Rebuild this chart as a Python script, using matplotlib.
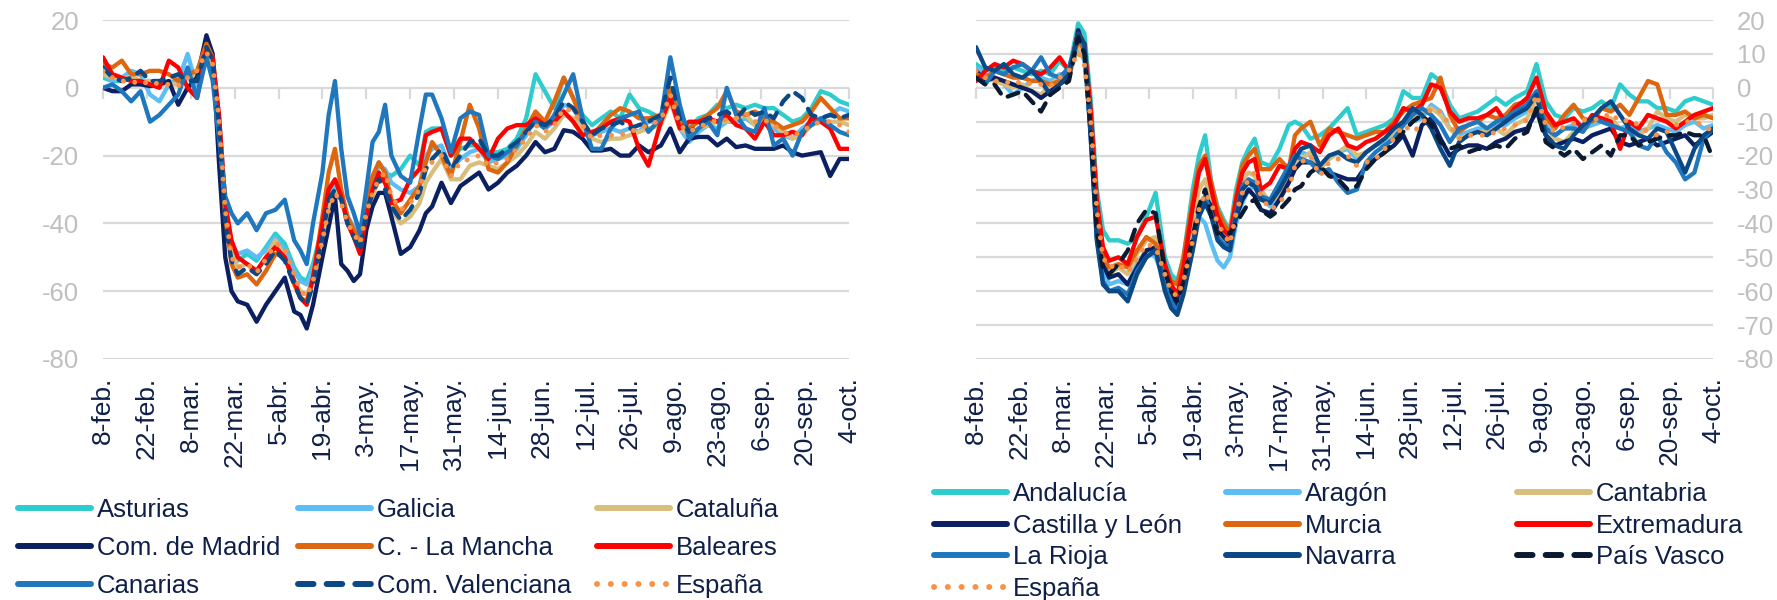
import matplotlib
matplotlib.use("Agg")
import matplotlib.pyplot as plt
from matplotlib.lines import Line2D

plt.rcParams["font.family"] = ["Liberation Sans", "DejaVu Sans"]
plt.rcParams["axes.unicode_minus"] = False

# --- figure geometry (pixels) ---
W, H = 1777, 600
Y_TOP, Y_BOT = 20, 359

# --- DATA: days counted from 8-feb (2020) ---
DAYS = [0, 3, 6, 9, 12, 15, 18, 21, 24, 27, 30, 33,
        35, 37, 39, 41, 43, 46, 49, 52, 55, 58, 61, 63, 65, 67,
        70, 72, 74, 76, 78, 80, 82, 84, 86, 88, 90, 92, 95, 98, 101, 103, 105,
        108, 111, 114, 117, 120, 123, 126, 129, 132, 135, 138, 141, 144, 147, 150, 153, 156, 159, 162, 165, 168, 171, 174,
        178, 181, 184, 187, 190, 193, 196, 199, 202, 205, 208, 211, 214, 217, 220, 223, 226, 229, 232, 235, 238]

TICK_DAYS = list(range(0, 239, 14))
TICK_LABELS = ["8-feb.", "22-feb.", "8-mar.", "22-mar.", "5-abr.", "19-abr.", "3-may.", "17-may.",
               "31-may.", "14-jun.", "28-jun.", "12-jul.", "26-jul.", "9-ago.", "23-ago.", "6-sep.",
               "20-sep.", "4-oct."]

espana = [5, 3, 2, 2, 1, 2, 1, 1, 0.5, 3, 5, 10.5,
          7, -9, -36, -50, -53, -52, -54.5, -50.5, -46, -47, -55, -60, -61.5, -57,
          -45, -36, -31, -34, -40, -43, -46, -37, -31, -27, -25, -32, -36, -34, -30, -23, -22,
          -20, -26, -22, -21, -20, -23, -22, -21, -18, -15, -11, -13, -11, -6, -7, -11, -15, -14, -14, -14, -13, -12, -11,
          -9.5, -2, -11, -13, -11.5, -10.5, -9.5, -9.5, -9, -7.5, -10, -9.5, -11, -13, -14, -13, -11, -10, -10, -11, -13]

# left panel
asturias = [3, 2, 2, 3, 2, 2, 1, 2, 1, 4, 4, 9,
            6, -9, -34, -47, -51, -49, -51, -47, -43, -46, -53, -56, -57, -52,
            -41, -33, -28, -32, -38, -42, -44, -35, -27, -22, -25, -26, -24, -20, -23, -13, -12,
            -12, -20, -18, -17, -17, -19, -19, -18, -15, -9, 4, -1, -6, 3, -3, -8, -11, -9, -7, -9, -2, -6, -7,
            -9, -1, -8, -12, -9, -8, -5, -6, -5, -6, -5, -6, -6, -8, -10, -9, -6, -1, -2, -4, -5]
galicia = [4, 2, 3, 5, 4, -2, -4, 1, 2, 10, 0, 10,
           6, -8, -34, -46, -49, -48, -50, -48, -44, -48, -54, -57, -58, -54,
           -42, -32, -28, -31, -38, -41, -44, -35, -28, -23, -24, -28, -30, -31, -29, -20, -18,
           -17, -24, -21, -19, -18, -22, -21, -20, -18, -14, -8, -12, -10, -5, -6, -11, -14, -13, -12, -13, -12, -13, -10,
           -10, -2, -12, -16, -13, -11, -12, -10, -10, -9, -11, -10, -12, -14, -15, -12, -10, -9, -8, -6, -7]
cataluna = [4, 3, 3, 3, 2, 2, 1, 1, 1, 3, 4, 10,
            7, -10, -37, -49, -53, -52, -54, -50, -45, -50, -57, -60, -61, -57,
            -46, -36, -31, -33, -40, -44, -48, -39, -32, -27, -28, -36, -40, -38, -34, -28, -25,
            -21, -27, -27, -23, -22, -23, -24, -22, -20, -17, -13, -15, -12, -8, -9, -12, -15, -16, -15, -15, -14, -13, -12,
            -11, -4, -12, -14, -12, -11, -10, -10, -9, -8, -11, -9, -11, -13, -15, -14, -11, -10, -10, -10, -11]
madrid = [0, -1, -1, 1, 1, 0.5, 1, 2, -5, 0, 3, 15.5,
          10, -22, -50, -60, -63, -64, -69, -64, -60, -56, -66, -67, -71, -64,
          -50, -41, -32, -52, -54, -57, -55, -42, -35, -31, -31, -38, -49, -47, -42, -37, -35,
          -28, -34, -29, -27, -25, -30, -28, -25, -23, -20, -16, -19, -18, -12.5, -13, -15, -18.5, -18.5, -18, -20, -20, -17, -19,
          -17, -12, -19, -15, -14.5, -14.5, -17, -15, -17.5, -17, -18, -18, -18, -17, -19, -20, -19.5, -19, -26, -21, -21]
la_mancha = [7, 6, 8, 4, 4, 5, 5, 4, 2, 4, 5, 13,
             9, -10, -38, -52, -56, -55, -58, -54, -49, -50, -58, -62, -63, -56,
             -38, -25, -18, -30, -38, -42, -45, -35, -26, -22, -25, -33, -37, -33, -29, -22, -16,
             -20, -26, -16, -5, -12, -24, -25, -22, -17, -12, -7, -10, -4, 3, -3, -10, -14, -11, -8, -6, -7, -9, -9,
             -8, 0, -10, -12, -10, -8, -6, -1, -7, -8, -7, -9, -10, -12, -11, -10, -7, -3, -6, -9, -9]
baleares = [9, 4, 3, 2, 2, 1, 0, 8, 6, 0, -3, 11,
            9, -8, -34, -45, -50, -52, -54, -50, -47, -50, -57, -62, -64, -56,
            -40, -30, -27, -32, -40, -44, -49, -38, -30, -25, -28, -34, -33, -27, -24, -14, -13,
            -12, -20, -15, -15, -18, -21, -15, -12, -11, -11, -9, -11, -10, -7, -10, -14, -13, -12, -10, -9, -10, -18, -23,
            -10, -3, -12, -10, -10, -9, -10, -8, -11, -12, -15, -10, -14, -14, -13, -14, -9, -10, -12, -18, -18]
canarias = [0, 1, -1, -4, -1, -10, -8, -5, -2, 6, -3, 9,
            2, -15, -32, -37, -40, -37, -42, -37, -36, -33, -45, -48, -52, -40,
            -25, -8, 2, -18, -32, -37, -43, -30, -16, -13, -5, -20, -26, -28, -12, -2, -2,
            -9, -19, -9, -7, -8, -20, -21, -19, -17, -13, -10, -12, -8, -2, 4, -9, -18, -18, -12, -9, -8, -7, -13,
            -9, 9, -5, -15, -12, -10, -14, 0, -8, -12, -13, -6, -17, -15, -20, -13, -11, -9, -11, -13, -14]
valenciana = [6, 3, 2, 3, 5, 2, 2, 3, 4, 2, 2, 12,
              8, -11, -40, -51, -55, -53, -55, -52, -48, -51, -58, -62, -64, -58,
              -44, -33, -30, -33, -40, -44, -48, -37, -31, -27, -30, -35, -39, -36, -31, -24, -21,
              -18, -24, -20, -16, -15, -20, -20, -18, -16, -13, -10, -11, -9, -4, -6, -10, -14, -12, -11, -10, -12, -11, -10,
              -8, 3, -9, -13, -11, -9, -8, -7, -9, -6, -8, -7, -9, -4, -1, -3, -8, -9, -8, -9, -8]

# right panel
andalucia = [7, 5, 6, 5, 6, 5, 4, 5, 4, 8, 5, 19,
             16, -3, -30, -42, -45, -45, -46, -44, -38, -31, -50, -55, -57, -50,
             -30, -20, -14, -28, -35, -39, -42, -30, -22, -18, -15, -22, -23, -18, -11, -10, -11,
             -15, -14, -12, -9, -6, -14, -13, -12, -11, -9, -1, -3, -3, 4, 2, -5, -9, -8, -7, -5, -3, -5, -3,
             -1, 7, -4, -8, -9, -6, -7, -6, -4, -6, 1, -2, -4, -4, -6, -6, -7, -4, -3, -4, -5]
aragon = [6, 4, 3, 1, -2, 0, 2, 3, 2, 4, 4, 12,
          8, -12, -40, -53, -58, -57, -58, -52, -48, -50, -57, -62, -64, -58,
          -45, -38, -40, -46, -51, -53, -50, -40, -34, -30, -29, -32, -35, -31, -27, -21, -19,
          -20, -23, -21, -19, -18, -21, -19, -17, -16, -13, -10, -10, -9, -5, -7, -12, -14, -13, -12, -12, -11, -11, -9,
          -7, -2, -11, -14, -12, -11, -12, -11, -10, -11, -12, -11, -13, -12, -11, -12, -13, -11, -10, -12, -11]
cantabria = [4, 3, 2, 1, 0, 1, -1, -2, 1, 3, 3, 13,
             9, -11, -40, -52, -55, -53, -55, -49, -45, -44, -55, -60, -62, -55,
             -40, -30, -27, -34, -41, -44, -46, -35, -27, -25, -26, -30, -34, -31, -27, -22, -21,
             -19, -24, -21, -19, -17, -20, -19, -17, -15, -13, -10, -9, -7, -6, -8, -12, -15, -14, -13, -13, -12, -14, -11,
             -9, -3, -12, -15, -16, -13, -11, -10, -9, -9, -12, -13, -14, -12, -7, -9, -10, -8, -9, -9, -8]
castilla_leon = [5, 2, 3, 2, 1, 0, -1, -3, -1, 1, 3, 17,
                 12, -12, -40, -52, -56, -55, -58, -53, -48, -47, -56, -61, -64, -58,
                 -46, -37, -32, -35, -42, -44, -46, -38, -33, -30, -32, -36, -37, -33, -28, -24, -22,
                 -22, -24, -25, -26, -27, -27, -23, -21, -19, -17, -14, -20, -11, -9, -15, -20, -18, -17, -17, -18, -16, -15, -13,
                 -12, -7, -14, -17, -16, -15, -16, -14, -13, -12, -16, -17, -16, -15, -17, -16, -15, -14, -17, -15, -13]
murcia = [4, 3, 5, 4, 3, 3, 2, 2, 1, 2, 4, 14,
          11, -8, -36, -50, -53, -52, -53, -48, -44, -46, -53, -57, -58, -50,
          -33, -23, -20, -28, -36, -40, -43, -32, -23, -20, -18, -24, -24, -21, -24, -14, -12,
          -10, -17, -12, -13, -14, -15, -14, -13, -13, -10, -7, -5, -4, -3, 3, -8, -13, -11, -10, -8, -9, -8, -5,
          -4, -2, -9, -12, -8, -5, -9, -10, -6, -7, -5, -8, -3, 2, 1, -8, -8, -7, -9, -8, -9]
extremadura = [2, 5, 7, 6, 8, 7, 5, 4, 6, 9, 5, 16,
               13, -6, -33, -47, -51, -50, -52, -44, -39, -38, -52, -58, -61, -53,
               -35, -25, -21, -30, -38, -42, -44, -33, -25, -22, -21, -30, -28, -23, -24, -18, -16,
               -17, -19, -14, -12, -17, -18, -16, -15, -13, -11, -6, -7, -5, 1, 0, -7, -10, -9, -9, -8, -6, -10, -6,
               -3, 3, -7, -11, -10, -9, -12, -8, -9, -10, -18, -10, -12, -8, -9, -10, -12, -10, -8, -7, -6]
la_rioja = [3, 1, 5, 4, 6, 7, 5, 9, 4, 3, 6, 15,
            12, -14, -44, -57, -60, -59, -61, -54, -50, -48, -58, -63, -66, -60,
            -47, -37, -32, -37, -44, -46, -47, -37, -29, -27, -28, -32, -33, -28, -23, -20, -21,
            -22, -25, -24, -28, -31, -30, -22, -19, -17, -15, -11, -8, -6, -8, -11, -16, -12, -11, -10, -12, -10, -9, -7,
            -5, -1, -12, -14, -12, -12, -13, -9, -10, -11, -12, -13, -17, -18, -14, -19, -22, -27, -25, -15, -12]
navarra = [12, 6, 5, 7, 4, 3, 5, 2, -2, 1, 4, 16,
           13, -14, -45, -58, -60, -60, -63, -55, -50, -48, -60, -65, -67, -61,
           -48, -38, -34, -38, -45, -47, -48, -38, -30, -28, -29, -33, -34, -30, -25, -21, -18,
           -17, -23, -20, -19, -21, -22, -19, -17, -15, -12, -10, -6, -8, -12, -18, -23, -16, -14, -13, -14, -12, -10, -8,
           -6, -2, -14, -17, -18, -14, -11, -9, -6, -4, -8, -12, -14, -15, -12, -13, -19, -25, -18, -14, -12]
pais_vasco = [3, 1, 1, -3, -2, -1, -4, -7, -2, 0, 2, 15,
              10, -12, -42, -53, -55, -52, -48, -40, -36, -37, -54, -60, -63, -57,
              -44, -35, -30, -38, -43, -42, -43, -40, -37, -34, -33, -36, -38, -36, -33, -30, -29,
              -25, -23, -26, -27, -30, -29, -24, -21, -19, -16, -13, -10, -8, -11, -16, -18, -17, -19, -18, -18, -17, -18, -15,
              -13, -6, -16, -18, -20, -18, -21, -19, -17, -20, -14, -14, -17, -16, -15, -14, -14, -13, -14, -14, -21]

# --- styles ---
TURQ = "#2ECCCC"
LBLUE = "#5DBDF5"
TAN = "#D9BE7B"
NAVY = "#0A2060"
ORANGE = "#DE660E"
RED = "#FF0000"
MBLUE = "#1F77BE"
DBLUE = "#0B4886"
BLACK = "#0A1A30"
ESP = "#F79248"
GRID = "#D9D9D9"
YLAB = "#BFBFBF"
TEXT = "#0F1F48"

SOLID = "-"
DASHED = (0, (2.6, 2.2))
DOTTED = (0, (0.01, 2.3))

left_series = [
    ("Asturias", asturias, TURQ, SOLID),
    ("Galicia", galicia, LBLUE, SOLID),
    ("Cataluña", cataluna, TAN, SOLID),
    ("Com. de Madrid", madrid, NAVY, SOLID),
    ("C. - La Mancha", la_mancha, ORANGE, SOLID),
    ("Baleares", baleares, RED, SOLID),
    ("Canarias", canarias, MBLUE, SOLID),
    ("Com. Valenciana", valenciana, DBLUE, DASHED),
    ("España", espana, ESP, DOTTED),
]
right_series = [
    ("Andalucía", andalucia, TURQ, SOLID),
    ("Aragón", aragon, LBLUE, SOLID),
    ("Cantabria", cantabria, TAN, SOLID),
    ("Castilla y León", castilla_leon, NAVY, SOLID),
    ("Murcia", murcia, ORANGE, SOLID),
    ("Extremadura", extremadura, RED, SOLID),
    ("La Rioja", la_rioja, MBLUE, SOLID),
    ("Navarra", navarra, DBLUE, SOLID),
    ("País Vasco", pais_vasco, BLACK, DASHED),
    ("España", espana, ESP, DOTTED),
]


def axes_rect(x0, x1):
    return [x0 / W, 1 - Y_BOT / H, (x1 - x0) / W, (Y_BOT - Y_TOP) / H]


def draw_panel(ax, series, yticks, right=False):
    for label, vals, color, ls in series:
        lw = 3.6 if ls == DOTTED else 3.1
        ax.plot(DAYS, vals, color=color, lw=lw, linestyle=ls,
                solid_joinstyle="round", solid_capstyle="round",
                dash_capstyle="round", zorder=3)
    ax.set_xlim(0, 238)
    ax.set_ylim(-80, 20)
    ax.set_yticks(yticks)
    ax.yaxis.grid(True, color=GRID, lw=1.6)
    ax.set_axisbelow(True)
    for s in ax.spines.values():
        s.set_visible(False)
    ax.set_xticks(TICK_DAYS)
    ax.set_xticklabels(TICK_LABELS, rotation=90)
    ax.tick_params(axis="x", length=0, pad=13, labelsize=19, labelcolor=TEXT)
    ax.tick_params(axis="y", length=0, pad=17, labelsize=18.5, labelcolor=YLAB)
    if right:
        ax.yaxis.tick_right()
    # small tick marks hanging from the zero line
    sec = ax.secondary_xaxis(0.8)
    sec.set_xticks(TICK_DAYS)
    sec.tick_params(axis="x", bottom=True, top=False, labelbottom=False, labeltop=False,
                    direction="out", length=8, width=1.6, color=GRID)
    for s in sec.spines.values():
        s.set_visible(False)


def column_legend(fig, entries, x_px, top_px, spacing):
    handles = [Line2D([], [], color=c, lw=4.3, linestyle=ls, solid_capstyle="round",
                      dash_capstyle="round") for _, _, c, ls in entries]
    labels = [e[0] for e in entries]
    fig.legend(handles, labels, loc="upper left", bbox_to_anchor=(x_px / W, 1 - top_px / H),
               frameon=False, borderpad=0, borderaxespad=0, handlelength=2.84,
               handletextpad=0.24, labelspacing=spacing, fontsize=18.5, labelcolor=TEXT)


fig = plt.figure(figsize=(W / 100, H / 100), dpi=100)

ax1 = fig.add_axes(axes_rect(103, 849))
draw_panel(ax1, left_series, list(range(-80, 21, 20)))

ax2 = fig.add_axes(axes_rect(976, 1713))
draw_panel(ax2, right_series, list(range(-80, 21, 10)), right=True)

# legends: rows read left to right, one legend per column
for col, x in enumerate([18, 298, 597]):
    column_legend(fig, left_series[col::3], x, 498, 0.55)
for col, x in enumerate([934, 1226, 1517]):
    column_legend(fig, right_series[col::3], x, 482, 0.30)

fig.savefig("out.png", dpi=100)
